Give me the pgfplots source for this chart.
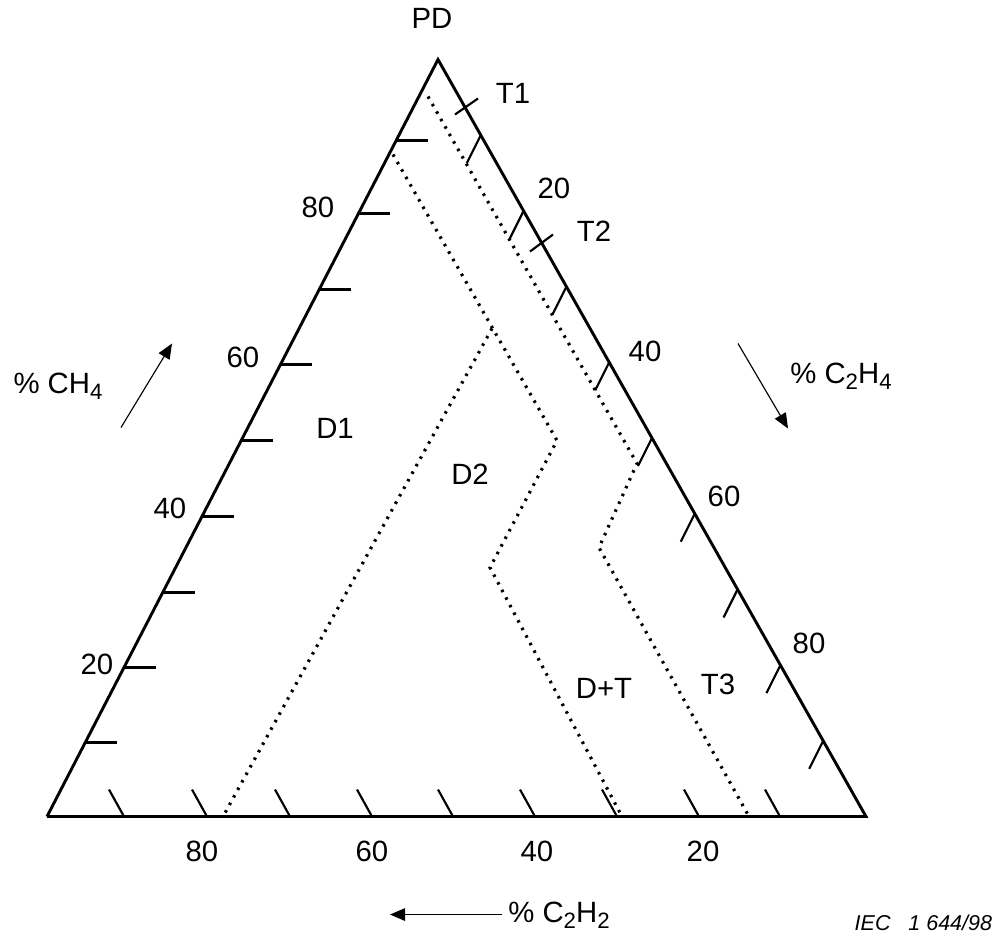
\documentclass[border=0pt]{standalone}
\usepackage{fontspec}
\setmainfont{Liberation Sans}
\usepackage{pgfplots}
\pgfplotsset{compat=1.18}
\usetikzlibrary{arrows.meta}
\newcommand\sub[1]{\raisebox{-0.4ex}{\fontsize{8.8}{10}\selectfont #1}}

\begin{document}
\begin{tikzpicture}[font=\fontsize{11.6}{13}\selectfont]
\begin{axis}[
    scale only axis,
    width=14cm, height=13.18cm,
    xmin=0, xmax=1007, ymin=0, ymax=948,
    y dir=reverse,
    hide axis,
    clip=false,
    unbounded coords=jump,
]
% invisible frame, keeps the page at the reference size
\addplot[draw=none] coordinates {(0,0) (1007,948)};

% triangle
\addplot[black, line width=1.15pt, line join=miter] coordinates {(47,816) (438,59) (866,816) (47,816)};

% ticks on the CH4 side (left)
\addplot[black, line width=0.85pt] coordinates {
 (396,140) (428,140) (0,nan)
 (358.5,213) (390,213) (0,nan)
 (319,289) (351,289) (0,nan)
 (280.5,364) (312,364) (0,nan)
 (241,440) (273,440) (0,nan)
 (202,516) (234,516) (0,nan)
 (163,592) (195,592) (0,nan)
 (124,667) (156,667) (0,nan)
 (85,742) (117,742)
};

% ticks on the C2H4 side (right)
\addplot[black, line width=0.85pt] coordinates {
 (480.8,134.7) (466.8,162.7) (0,nan)
 (523.6,210.4) (509.6,238.4) (0,nan)
 (566.4,286.1) (552.4,314.1) (0,nan)
 (609.2,361.8) (595.2,389.8) (0,nan)
 (652,437.5) (638,465.5) (0,nan)
 (694.8,513.2) (680.8,541.2) (0,nan)
 (737.6,588.9) (723.6,616.9) (0,nan)
 (780.4,664.6) (766.4,692.6) (0,nan)
 (823.2,740.3) (809.2,768.3) (0,nan)
 (455,114) (478,98) (0,nan)
 (530,251) (553,234)
};

% ticks on the C2H2 side (bottom)
\addplot[black, line width=0.85pt] coordinates {
 (124,816) (109,789) (0,nan)
 (207,816) (192,789) (0,nan)
 (290,816) (275,789) (0,nan)
 (372,816) (357,789) (0,nan)
 (453,816) (438,789) (0,nan)
 (535,816) (520,789) (0,nan)
 (617,816) (602,789) (0,nan)
 (699,816) (684,789) (0,nan)
 (780,816) (765,789)
};

% zone boundaries
\addplot[black, line width=1.25pt, dash pattern=on 1pt off 2.4pt] coordinates {(428,96) (637,463) (599,547) (749,816)};
\addplot[black, line width=1.25pt, dash pattern=on 1pt off 2.4pt] coordinates {(393,154) (557,440) (490,567) (622,816)};
\addplot[black, line width=1.25pt, dash pattern=on 1pt off 2.4pt] coordinates {(492,328) (223,816)};

% direction arrows
\addplot[black, line width=0.45pt, -{Triangle[length=6pt,width=5pt]}] coordinates {(121,427) (172,343)};
\addplot[black, line width=0.45pt, -{Triangle[length=6pt,width=5pt]}] coordinates {(738,343) (788,428)};
\addplot[black, line width=0.45pt, -{Triangle[length=6pt,width=5pt]}] coordinates {(502,914) (390,914)};

% labels
\node at (axis cs:432,18) {PD};
\node at (axis cs:513,93) {T1};
\node at (axis cs:594,231) {T2};
\node at (axis cs:718,684) {T3};
\node at (axis cs:335,428) {D1};
\node at (axis cs:470,474) {D2};
\node at (axis cs:604,688) {D+T};

\node at (axis cs:318,207) {80};
\node at (axis cs:243,357) {60};
\node at (axis cs:170,508) {40};
\node at (axis cs:97,664) {20};

\node at (axis cs:554,188) {20};
\node at (axis cs:645,351) {40};
\node at (axis cs:724,496) {60};
\node at (axis cs:809,643) {80};

\node at (axis cs:202,851) {80};
\node at (axis cs:372,851) {60};
\node at (axis cs:537,851) {40};
\node at (axis cs:703,851) {20};

\node at (axis cs:58,386) {\% CH\sub{4}};
\node at (axis cs:841,376) {\% C\sub{2}H\sub{4}};
\node at (axis cs:559,915) {\% C\sub{2}H\sub{2}};
\node[font=\fontsize{8.5}{10}\selectfont\itshape, anchor=east] at (axis cs:1001,922) {IEC\ \ \ 1 644/98};
\end{axis}
\end{tikzpicture}
\end{document}
